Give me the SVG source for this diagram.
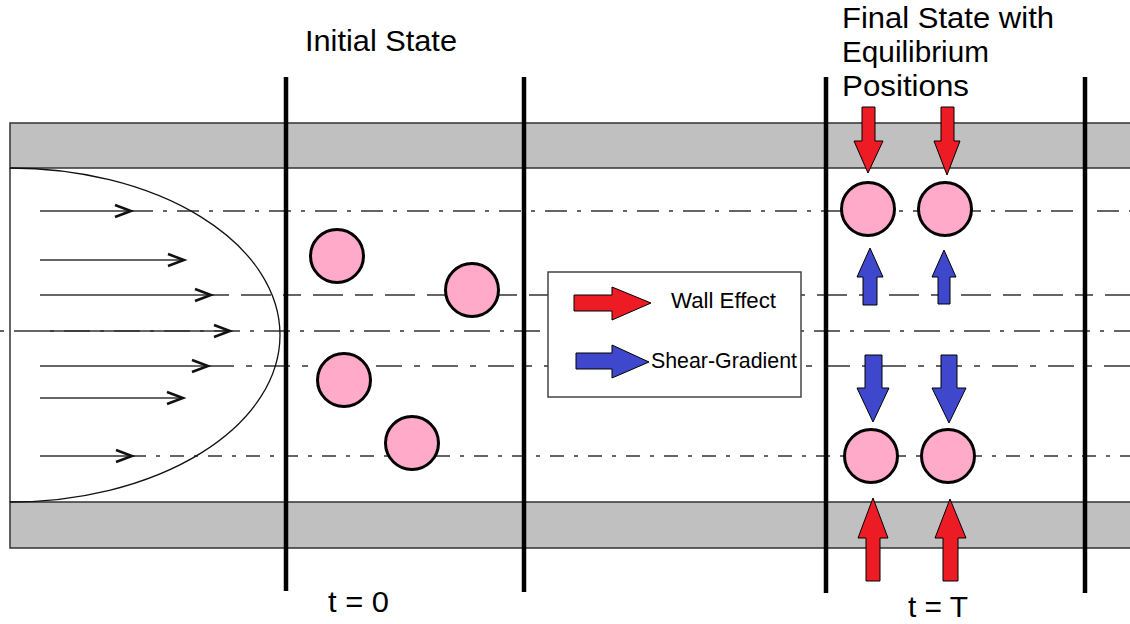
<svg xmlns="http://www.w3.org/2000/svg" width="1130" height="624" viewBox="0 0 1130 624">
<defs>
<style>
.band{fill:#c0c0c0;stroke:#333;stroke-width:1.5}
.dl{fill:none;stroke:#333;stroke-width:1.5;stroke-dasharray:22 10 4 10}
.vl{fill:none;stroke:#333;stroke-width:1.5}
.chev{fill:none;stroke:#111;stroke-width:2.5;stroke-linejoin:miter}
.wall{stroke:#000;stroke-width:4.5}
.p{fill:#ffaac8;stroke:#000;stroke-width:3}
.red{fill:#ed1c24;stroke:#000;stroke-width:1}
.blue{fill:#3f48cc;stroke:#000;stroke-width:1}
.t{font-family:"Liberation Sans",Arial,sans-serif;fill:#000}
</style>
</defs>
<rect width="1130" height="624" fill="#fff"/>
<g id="channel">
<rect class="band" x="10" y="123" width="1125" height="45"/>
<rect class="band" x="10" y="502" width="1125" height="46"/>
<line x1="10" y1="168" x2="10" y2="502" stroke="#333" stroke-width="1.5"/>
</g>
<g id="connectors">
<line class="dl" x1="131" y1="211" x2="1130" y2="211"/>
<line class="dl" x1="211" y1="295" x2="1130" y2="295" style="stroke-dasharray:18 12 30 12"/>
<line class="dl" x1="0" y1="331" x2="1130" y2="331" style="stroke-dasharray:4 10 26 10"/>
<line class="dl" x1="208" y1="366" x2="1130" y2="366" style="stroke-dasharray:26 12 6 12"/>
<line class="dl" x1="132" y1="456" x2="1130" y2="456" style="stroke-dasharray:14 10 4 10"/>
<line class="vl" x1="40" y1="211" x2="131" y2="211"/>
<line class="vl" x1="40" y1="260" x2="184" y2="260"/>
<line class="vl" x1="40" y1="295" x2="211" y2="295"/>
<line class="vl" x1="40" y1="331" x2="230" y2="331"/>
<line class="vl" x1="40" y1="366" x2="208" y2="366"/>
<line class="vl" x1="40" y1="398" x2="183" y2="398"/>
<line class="vl" x1="40" y1="456" x2="132" y2="456"/>
<path class="chev" d="M115,205 L131,211 L115,217"/>
<path class="chev" d="M168,254 L184,260 L168,266"/>
<path class="chev" d="M195,289 L211,295 L195,301"/>
<path class="chev" d="M214,325 L230,331 L214,337"/>
<path class="chev" d="M192,360 L208,366 L192,372"/>
<path class="chev" d="M167,392 L183,398 L167,404"/>
<path class="chev" d="M116,450 L132,456 L116,462"/>
<path d="M10,168 A270,167 0 0 1 10,502" fill="none" stroke="#111" stroke-width="1.3"/>
<line class="wall" x1="286" y1="77" x2="286" y2="591"/>
<line class="wall" x1="524" y1="77" x2="524" y2="592"/>
<line class="wall" x1="826" y1="77" x2="826" y2="593"/>
<line class="wall" x1="1085" y1="77" x2="1085" y2="593"/>
</g>
<g id="legend">
<rect x="548" y="272" width="253" height="125" fill="#fff" stroke="#444" stroke-width="1.5"/>
<polygon class="red" points="574,295 612,295 612,287 651,303 612,320 612,311 574,311"/>
<polygon class="blue" points="576,353 612,353 612,345 649,362 612,378 612,369 576,369"/>
<text class="t" x="671" y="308" font-size="22" textLength="105" lengthAdjust="spacingAndGlyphs">Wall Effect</text>
<text class="t" x="651" y="368" font-size="22" textLength="146" lengthAdjust="spacingAndGlyphs">Shear-Gradient</text>
</g>
<g id="initial-particles">
<circle class="p" cx="337" cy="256" r="26.5"/>
<circle class="p" cx="472" cy="290" r="26.5"/>
<circle class="p" cx="344" cy="380" r="26.5"/>
<circle class="p" cx="412" cy="443" r="26.5"/>
</g>
<g id="final-particles">
<circle class="p" cx="868" cy="209" r="26.5"/>
<circle class="p" cx="945" cy="209" r="26.5"/>
<circle class="p" cx="871" cy="456" r="26.5"/>
<circle class="p" cx="948" cy="456" r="26.5"/>
</g>
<g id="force-arrows">
<polygon class="red" points="862,107 875,107 875,141 883,141 868,173 854,141 862,141"/>
<polygon class="red" points="941,107 954,107 954,141 960,141 947,175 934,141 941,141"/>
<polygon class="blue" points="870,248 883,277 877,277 877,305 863,305 863,277 857,277"/>
<polygon class="blue" points="944,250 956,277 950,277 950,304 938,304 938,277 932,277"/>
<polygon class="blue" points="865,355 882,355 882,388 889,388 873,422 857,388 865,388"/>
<polygon class="blue" points="941,355 957,355 957,388 966,388 949,423 932,388 941,388"/>
<polygon class="red" points="873,498 888,538 880,538 880,581 866,581 866,538 858,538"/>
<polygon class="red" points="950,499 966,538 958,538 958,581 943,581 943,538 935,538"/>
</g>
<g id="labels">
<text class="t" x="305" y="51" font-size="29" textLength="152" lengthAdjust="spacingAndGlyphs">Initial State</text>
<text class="t" x="842" y="28" font-size="29" textLength="212" lengthAdjust="spacingAndGlyphs">Final State with</text>
<text class="t" x="842" y="62" font-size="29" textLength="147" lengthAdjust="spacingAndGlyphs">Equilibrium</text>
<text class="t" x="842" y="96" font-size="29" textLength="127" lengthAdjust="spacingAndGlyphs">Positions</text>
<text class="t" x="328" y="612" font-size="29" textLength="61" lengthAdjust="spacingAndGlyphs">t = 0</text>
<text class="t" x="908" y="617" font-size="29" textLength="60" lengthAdjust="spacingAndGlyphs">t = T</text>
</g>
</svg>
